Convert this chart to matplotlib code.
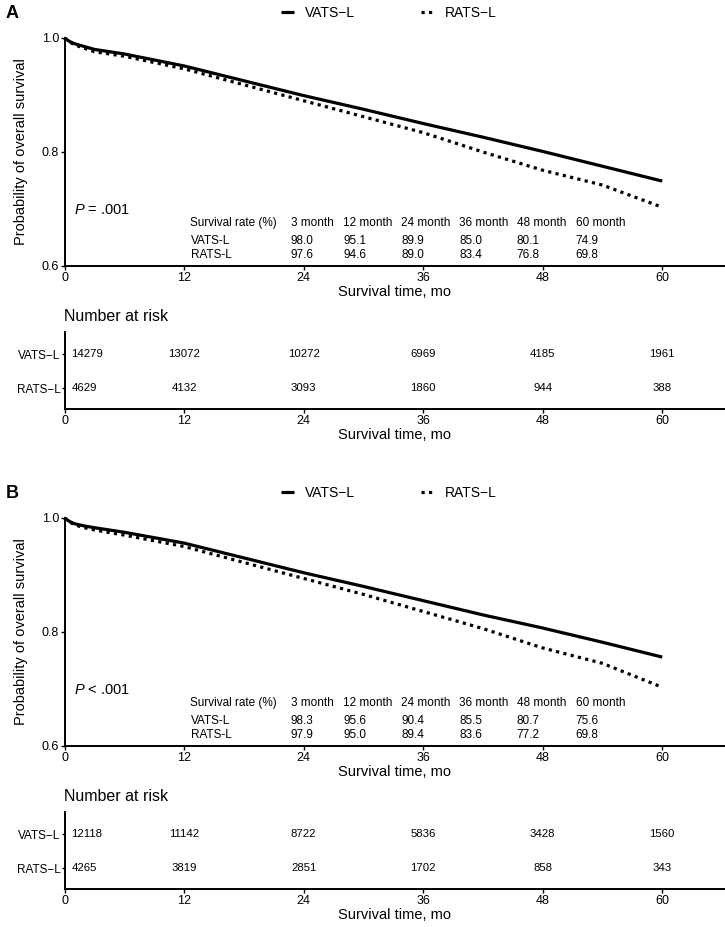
import matplotlib
matplotlib.use("Agg")
import matplotlib.pyplot as plt
import numpy as np

plt.rcParams['font.family'] = ['Liberation Sans', 'DejaVu Sans']
plt.rcParams['mathtext.fontset'] = 'custom'
plt.rcParams['mathtext.rm'] = 'Liberation Sans'
plt.rcParams['mathtext.it'] = 'Liberation Sans:italic'

# curve readings (months, survival probability)
months = [0, 0.5, 1, 2, 3, 6, 12, 18, 24, 30, 36, 42, 48, 54, 60]
vats_a = [1.0, 0.994, 0.990, 0.985, 0.980, 0.972, 0.951, 0.925, 0.899, 0.875, 0.850, 0.826, 0.801, 0.775, 0.749]
rats_a = [1.0, 0.993, 0.988, 0.982, 0.976, 0.968, 0.946, 0.918, 0.890, 0.862, 0.834, 0.800, 0.768, 0.742, 0.703]
vats_b = [1.0, 0.994, 0.990, 0.986, 0.983, 0.975, 0.956, 0.930, 0.904, 0.880, 0.855, 0.830, 0.807, 0.782, 0.756]
rats_b = [1.0, 0.993, 0.988, 0.983, 0.979, 0.970, 0.950, 0.922, 0.894, 0.866, 0.836, 0.806, 0.772, 0.745, 0.703]

rate_cols = ['3 month', '12 month', '24 month', '36 month', '48 month', '60 month']
rate_vats_a = ['98.0', '95.1', '89.9', '85.0', '80.1', '74.9']
rate_rats_a = ['97.6', '94.6', '89.0', '83.4', '76.8', '69.8']
rate_vats_b = ['98.3', '95.6', '90.4', '85.5', '80.7', '75.6']
rate_rats_b = ['97.9', '95.0', '89.4', '83.6', '77.2', '69.8']

risk_times = [0, 12, 24, 36, 48, 60]
risk_vats_a = [14279, 13072, 10272, 6969, 4185, 1961]
risk_rats_a = [4629, 4132, 3093, 1860, 944, 388]
risk_vats_b = [12118, 11142, 8722, 5836, 3428, 1560]
risk_rats_b = [4265, 3819, 2851, 1702, 858, 343]

p_texts = ['$P$ = .001', '$P$ < .001']

XMAX = 66.3
dot_style = (0, (1, 1.35))


def style_axis(ax):
    for s in ['top', 'right']:
        ax.spines[s].set_visible(False)
    for s in ['left', 'bottom']:
        ax.spines[s].set_linewidth(1.4)
    ax.set_xlim(0, XMAX)
    ax.set_xticks(risk_times)
    ax.tick_params(axis='both', length=3, width=1, labelsize=9, pad=1)
    ax.set_xlabel('Survival time, mo', fontsize=10.5, labelpad=1)


def draw_panel(fig, top, letter, vats, rats, rv, rr, nv, nr, ptxt):
    # top: pixel row of y=1.0
    H = 927.0
    ax = fig.add_axes([64.5/725, 1 - (top + 228)/H, 1 - 64.5/725, 228/H])
    ax.plot(months, vats, color='black', lw=2.3, solid_capstyle='butt', clip_on=False, label='VATS\u2212L')
    ax.plot(months, rats, color='black', lw=2.3, ls=dot_style, clip_on=False, label='RATS\u2212L')
    style_axis(ax)
    ax.set_ylim(0.6, 1.0)
    ax.set_yticks([0.6, 0.8, 1.0])
    ax.set_yticklabels(['0.6', '0.8', '1.0'])
    ax.set_ylabel('Probability of overall survival', fontsize=10.5, labelpad=10)

    ax.text(1.0, 0.698, ptxt, fontsize=10.5, va='center', ha='left')
    colx = [22.7, 28.0, 33.8, 39.6, 45.4, 51.3]
    rows = [(0.675, 'Survival rate (%)', rate_cols), (0.644, 'VATS-L', rv), (0.619, 'RATS-L', rr)]
    for yy, name, vals in rows:
        ax.text(12.6 if name.startswith('Surv') else 12.7, yy, name, fontsize=8.5, va='center', ha='left')
        for cx, v in zip(colx, vals):
            ax.text(cx, yy, v, fontsize=8.5, va='center', ha='left')

    ax.legend(loc='center', bbox_to_anchor=(389/725, 1 - (top - 25)/H), bbox_transform=fig.transFigure,
              ncol=2, frameon=False, handlelength=0.9, columnspacing=4.8, handletextpad=0.8, fontsize=10)
    fig.text(6/725, 1 - (top - 25)/H, letter, fontsize=13, fontweight='bold', va='center', ha='left')

    # number at risk table
    rtop = top + 294
    rax = fig.add_axes([64.5/725, 1 - (rtop + 77)/H, 1 - 64.5/725, 77/H])
    style_axis(rax)
    rax.set_ylim(0, 1)
    rax.set_yticks([0.714, 0.27])
    rax.set_yticklabels(['VATS\u2212L', 'RATS\u2212L'], fontsize=8.5)
    rax.tick_params(axis='y', length=2)
    for yy, vals in [(0.714, nv), (0.27, nr)]:
        for t, v in zip(risk_times, vals):
            if t == 0:
                rax.text(0.7, yy, str(v), fontsize=8.2, va='center', ha='left')
            else:
                rax.text(t, yy, str(v), fontsize=8.2, va='center', ha='center')
    rax.text(0.0, 1.1, 'Number at risk', fontsize=11.5, va='bottom', ha='left', transform=rax.transAxes)


fig = plt.figure(figsize=(7.25, 9.27), dpi=100)
draw_panel(fig, 38, 'A', vats_a, rats_a, rate_vats_a, rate_rats_a, risk_vats_a, risk_rats_a, p_texts[0])
draw_panel(fig, 518, 'B', vats_b, rats_b, rate_vats_b, rate_rats_b, risk_vats_b, risk_rats_b, p_texts[1])

fig.savefig('out.png', dpi=100)
